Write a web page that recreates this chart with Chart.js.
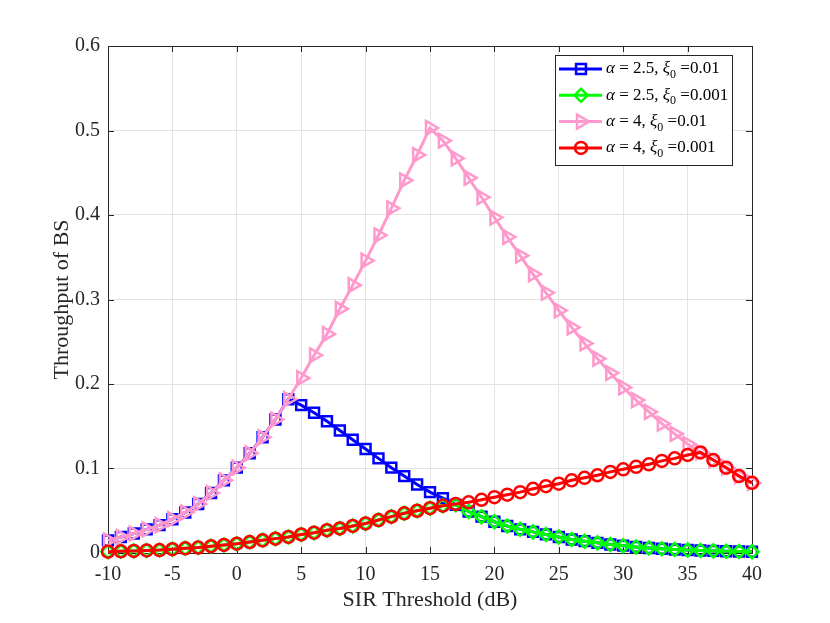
<!DOCTYPE html>
<html>
<head>
<meta charset="utf-8">
<script src="https://cdn.jsdelivr.net/npm/chart.js@4.4.0/dist/chart.umd.min.js"></script>
<style>
 body { margin: 0; background: #fff; }
 canvas { display: block; }
</style>
</head>
<body>
<canvas id="c" width="830" height="623"></canvas>
<script>
// SIR threshold (dB)
const sirDb = [-10,-9,-8,-7,-6,-5,-4,-3,-2,-1,0,1,2,3,4,5,6,7,8,9,10,11,12,13,14,15,16,17,18,19,20,
 21,22,23,24,25,26,27,28,29,30,31,32,33,34,35,36,37,38,39,40];

// alpha = 2.5, xi0 = 0.01
const a25x01 = [0.015,0.019,0.023,0.028,0.033,0.040,0.048,0.058,0.071,0.086,0.101,0.118,0.137,0.158,0.182,
 0.175,0.166,0.156,0.145,0.134,0.123,0.112,0.101,0.091,0.081,0.072,0.065,0.057,0.049,0.043,0.037,
 0.032,0.028,0.025,0.022,0.019,0.016,0.014,0.012,0.010,0.0087,0.0072,0.006,0.005,0.0042,0.0035,0.003,0.0025,0.002,0.0017,0.0014];

// alpha = 2.5, xi0 = 0.001
const a25x001 = [0.0015,0.002,0.0025,0.003,0.0035,0.0045,0.0055,0.0065,0.008,0.0095,0.011,0.013,0.015,0.017,0.019,
 0.022,0.024,0.027,0.029,0.032,0.035,0.039,0.043,0.047,0.050,0.053,0.056,0.057,0.049,0.043,0.037,
 0.032,0.028,0.025,0.022,0.019,0.016,0.014,0.012,0.010,0.0087,0.0072,0.006,0.005,0.0042,0.0035,0.003,0.0025,0.002,0.0017,0.0014];

// alpha = 4, xi0 = 0.01
const a4x01 = [0.015,0.019,0.023,0.028,0.033,0.040,0.048,0.058,0.071,0.086,0.101,0.118,0.137,0.158,0.182,
 0.207,0.234,0.259,0.289,0.317,0.346,0.376,0.408,0.441,0.471,0.503,0.488,0.467,0.444,0.421,0.397,
 0.374,0.352,0.330,0.308,0.287,0.267,0.248,0.230,0.213,0.196,0.181,0.167,0.153,0.141,0.129,0.119,0.110,0.101,0.091,0.083];

// alpha = 4, xi0 = 0.001
const a4x001 = [0.0015,0.002,0.0025,0.003,0.0035,0.0045,0.0055,0.0065,0.008,0.0095,0.011,0.013,0.015,0.017,0.019,
 0.022,0.024,0.027,0.029,0.032,0.035,0.039,0.043,0.047,0.050,0.053,0.056,0.058,0.060,0.063,0.066,
 0.069,0.072,0.076,0.079,0.082,0.086,0.089,0.092,0.096,0.099,0.102,0.105,0.109,0.112,0.116,0.119,0.110,0.101,0.091,0.083];

const xTicks = [-10,-5,0,5,10,15,20,25,30,35,40];
const yTicks = [0,0.1,0.2,0.3,0.4,0.5,0.6];

const serif = "'Liberation Serif', 'Times New Roman', serif";
const axisColor = '#262626';

function pts(arr) {
 return sirDb.map((x, i) => ({x: x, y: arr[i]}));
}

function series(alpha, xi, data, color, style, radius, rot, order) {
 return {
  alpha: alpha, xi: xi,
  data: pts(data),
  borderColor: color,
  borderWidth: 3,
  pointStyle: style,
  pointRadius: radius,
  pointRotation: rot,
  pointBorderWidth: 2.5,
  pointBorderColor: color,
  pointBackgroundColor: 'rgba(0,0,0,0)',
  pointHoverRadius: radius,
  tension: 0,
  clip: false,
  order: order
 };
}

// box round the axes and inward ticks, like matlab
const boxPlugin = {
 id: 'boxPlugin',
 beforeDatasetsDraw(chart) {
  const {ctx, chartArea: a, scales} = chart;
  ctx.save();
  ctx.strokeStyle = axisColor;
  ctx.lineWidth = 1;
  ctx.beginPath();
  xTicks.forEach(v => {
   const px = Math.round(scales.x.getPixelForValue(v)) + 0.5;
   ctx.moveTo(px, a.bottom); ctx.lineTo(px, a.bottom - 6);
   ctx.moveTo(px, a.top); ctx.lineTo(px, a.top + 6);
  });
  yTicks.forEach(v => {
   const py = Math.round(scales.y.getPixelForValue(v)) + 0.5;
   ctx.moveTo(a.left, py); ctx.lineTo(a.left + 6, py);
   ctx.moveTo(a.right, py); ctx.lineTo(a.right - 6, py);
  });
  ctx.stroke();
  ctx.strokeRect(Math.round(a.left) + 0.5, Math.round(a.top) + 0.5,
   Math.round(a.right - a.left), Math.round(a.bottom - a.top));
  ctx.restore();
 }
};

// legend with line + marker and subscripted xi_0
const legendPlugin = {
 id: 'boxLegend',
 afterDraw(chart) {
  const {ctx, chartArea: a} = chart;
  const w = 177, h = 110;
  const x0 = a.right - 197, y0 = a.top + 9;
  ctx.save();
  ctx.fillStyle = '#fff';
  ctx.fillRect(x0, y0, w, h);
  ctx.strokeStyle = axisColor;
  ctx.lineWidth = 1;
  ctx.strokeRect(Math.round(x0) + 0.5, Math.round(y0) + 0.5, w, h);

  chart.data.datasets.forEach((ds, i) => {
   const yy = y0 + 14 + i * 26.3;
   ctx.strokeStyle = ds.borderColor;
   ctx.lineWidth = 3;
   ctx.beginPath();
   ctx.moveTo(x0 + 4, yy); ctx.lineTo(x0 + 47, yy);
   ctx.stroke();
   ctx.lineWidth = 2.5;
   ctx.fillStyle = 'rgba(0,0,0,0)';
   Chart.helpers.drawPoint(ctx, {pointStyle: ds.pointStyle, rotation: ds.pointRotation,
    radius: ds.pointRadius, borderWidth: 2.5}, x0 + 26, yy);

   // text pieces
   let tx = x0 + 51;
   ctx.fillStyle = '#000';
   ctx.textBaseline = 'middle';
   const put = (s, f, dy) => { ctx.font = f; ctx.fillText(s, tx, yy + dy); tx += ctx.measureText(s).width; };
   put('\u03B1', 'italic 17px ' + serif, 0);
   put(' = ' + ds.alpha + ', ', '17px ' + serif, 0);
   put('\u03BE', 'italic 17px ' + serif, 0);
   put('0', '12px ' + serif, 6);
   put(' =' + ds.xi, '17px ' + serif, 0);
  });
  ctx.restore();
 }
};

new Chart(document.getElementById('c').getContext('2d'), {
 type: 'line',
 data: {
  datasets: [
   series('2.5', '0.01', a25x01, '#0000ff', 'rect', 7, 0, 4),
   series('2.5', '0.001', a25x001, '#00ff00', 'rectRot', 6.5, 0, 3),
   series('4', '0.01', a4x01, '#ff99cc', 'triangle', 8, 90, 2),
   series('4', '0.001', a4x001, '#ff0000', 'circle', 6, 0, 1)
  ]
 },
 options: {
  responsive: false,
  animation: false,
  events: [],
  layout: { padding: {left: 49, right: 78, top: 46, bottom: 0} },
  plugins: { legend: {display: false}, tooltip: {enabled: false} },
  scales: {
   x: {
    type: 'linear', min: -10, max: 40,
    afterBuildTicks: s => { s.ticks = xTicks.map(v => ({value: v})); },
    afterFit: s => { s.height = 70; },
    ticks: { color: axisColor, font: {family: serif, size: 20}, padding: 10, maxRotation: 0 },
    grid: { color: '#e3e3e3', drawTicks: false },
    border: { display: false },
    title: { display: true, text: 'SIR Threshold (dB)', color: axisColor,
     font: {family: serif, size: 22}, padding: {top: 0, bottom: 10} }
   },
   y: {
    min: 0, max: 0.6,
    afterBuildTicks: s => { s.ticks = yTicks.map(v => ({value: v})); },
    afterFit: s => { s.width = 59; },
    ticks: { color: axisColor, font: {family: serif, size: 20}, padding: 8,
     callback: v => String(Math.round(v * 10) / 10) },
    grid: { color: '#e3e3e3', drawTicks: false },
    border: { display: false },
    title: { display: true, text: 'Throughput of BS', color: axisColor,
     font: {family: serif, size: 22}, padding: {top: 0, bottom: 0} }
   }
  }
 },
 plugins: [boxPlugin, legendPlugin]
});
</script>
</body>
</html>
